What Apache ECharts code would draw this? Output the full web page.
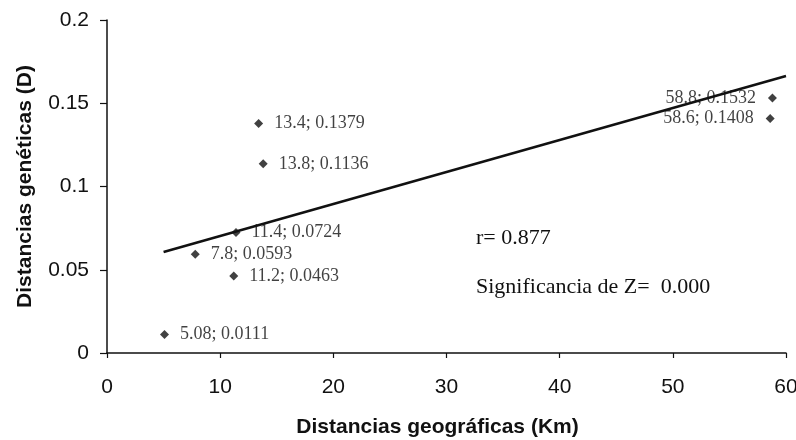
<!DOCTYPE html>
<html>
<head>
<meta charset="utf-8">
<script src="https://cdn.jsdelivr.net/npm/echarts@6/dist/echarts.min.js"></script>
<style>
  html, body { margin: 0; padding: 0; background: #fff; }
  #main { width: 796px; height: 440px; }
</style>
</head>
<body>
<div id="main"></div>
<script>
// distancias geográficas (Km) vs distancias genéticas (D)
var geoKm = [5.08, 7.8, 11.2, 11.4, 13.4, 13.8, 58.6, 58.8];
var genD = [0.0111, 0.0593, 0.0463, 0.0724, 0.1379, 0.1136, 0.1408, 0.1532];
// recta de tendencia
var trendX = [5, 60];
var trendY = [0.0607, 0.1664];
var xTicks = [0, 10, 20, 30, 40, 50, 60];
var yTicks = [0, 0.05, 0.1, 0.15, 0.2];
var statsText = ['r= 0.877', 'Significancia de Z=  0.000'];

var ink = '#111';
var myChart = echarts.init(document.getElementById('main'));

var pts = geoKm.map(function (x, i) { return [x, genD[i]]; });
var trend = trendX.map(function (x, i) { return [x, trendY[i]]; });

var option = {
  animation: false,
  backgroundColor: '#fff',
  grid: { left: 107, right: 10, top: 20, bottom: 87, outerBoundsMode: 'none', containLabel: false },
  xAxis: {
    type: 'value',
    min: xTicks[0],
    max: xTicks[xTicks.length - 1],
    interval: 10,
    name: 'Distancias geográficas (Km)',
    nameLocation: 'middle',
    nameGap: 64,
    nameTextStyle: { color: ink, fontFamily: 'Liberation Sans', fontWeight: 'bold', fontSize: 21, padding: [0, 18, 0, 0] },
    axisLine: { lineStyle: { color: ink, width: 1.5 } },
    axisTick: { length: 5, lineStyle: { color: ink, width: 1.2 } },
    axisLabel: { color: ink, fontFamily: 'Liberation Sans', fontSize: 21, margin: 24 },
    splitLine: { show: false }
  },
  yAxis: {
    type: 'value',
    min: yTicks[0],
    max: yTicks[yTicks.length - 1],
    interval: 0.05,
    name: 'Distancias genéticas (D)',
    nameLocation: 'middle',
    nameGap: 71,
    nameTextStyle: { color: ink, fontFamily: 'Liberation Sans', fontWeight: 'bold', fontSize: 21 },
    axisLine: { show: true, lineStyle: { color: ink, width: 1.5 } },
    axisTick: { show: true, length: 7, lineStyle: { color: ink, width: 1.2 } },
    axisLabel: { color: ink, fontFamily: 'Liberation Sans', fontSize: 21, margin: 18 },
    splitLine: { show: false }
  },
  series: [
    {
      type: 'line',
      data: trend,
      symbol: 'none',
      lineStyle: { color: ink, width: 2.5 },
      z: 2
    },
    {
      type: 'scatter',
      data: pts,
      symbol: 'diamond',
      symbolSize: 9,
      itemStyle: { color: ink },
      z: 3,
      label: {
        show: true,
        color: ink,
        fontFamily: 'Liberation Serif',
        fontSize: 18,
        position: 'right',
        distance: 11,
        formatter: function (p) { return p.value[0] + '; ' + p.value[1]; }
      },
      labelLayout: function (p) {
        // los dos puntos de la derecha llevan la etiqueta a la izquierda
        if (pts[p.dataIndex][0] > 50) {
          return { x: p.rect.x - 12, y: p.rect.y + p.rect.height / 2, align: 'right', verticalAlign: 'middle' };
        }
        return {};
      }
    }
  ],
  graphic: [
    {
      type: 'text', left: 476, top: 227,
      style: { text: statsText[0], fill: ink, font: '22px "Liberation Serif"' }
    },
    {
      type: 'text', left: 476, top: 276,
      style: { text: statsText[1], fill: ink, font: '22px "Liberation Serif"' }
    }
  ]
};

myChart.setOption(option, true);
</script>
</body>
</html>
